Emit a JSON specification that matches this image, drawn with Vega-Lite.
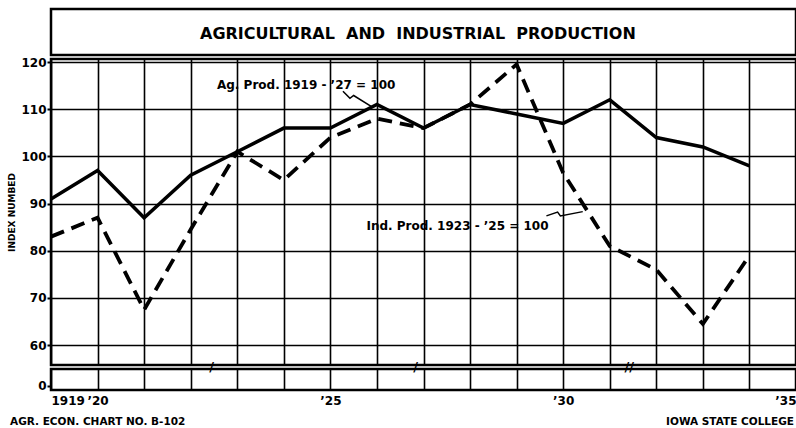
{
  "$schema": "https://vega.github.io/schema/vega-lite/v6.json",
  "background": "white",
  "padding": {"left": 6, "top": 7, "right": 0, "bottom": 0},
  "spacing": 4,
  "bounds": "flush",
  "config": {
    "view": {"stroke": "black", "strokeWidth": 2.5},
    "font": "DejaVu Sans",
    "axis": {"labelColor": "black", "titleColor": "black", "labelFont": "DejaVu Sans", "titleFont": "DejaVu Sans", "gridColor": "black", "gridOpacity": 1, "tickColor": "black"}
  },
  "datasets": {
    "production": [
      {"year": 1919, "series": "Ag. Prod.", "value": 91},
      {"year": 1920, "series": "Ag. Prod.", "value": 97},
      {"year": 1921, "series": "Ag. Prod.", "value": 87},
      {"year": 1922, "series": "Ag. Prod.", "value": 96},
      {"year": 1923, "series": "Ag. Prod.", "value": 101},
      {"year": 1924, "series": "Ag. Prod.", "value": 106},
      {"year": 1925, "series": "Ag. Prod.", "value": 106},
      {"year": 1926, "series": "Ag. Prod.", "value": 111},
      {"year": 1927, "series": "Ag. Prod.", "value": 106},
      {"year": 1928, "series": "Ag. Prod.", "value": 111},
      {"year": 1929, "series": "Ag. Prod.", "value": 109},
      {"year": 1930, "series": "Ag. Prod.", "value": 107},
      {"year": 1931, "series": "Ag. Prod.", "value": 112},
      {"year": 1932, "series": "Ag. Prod.", "value": 104},
      {"year": 1933, "series": "Ag. Prod.", "value": 102},
      {"year": 1934, "series": "Ag. Prod.", "value": 98},
      {"year": 1919, "series": "Ind. Prod.", "value": 83},
      {"year": 1920, "series": "Ind. Prod.", "value": 87},
      {"year": 1921, "series": "Ind. Prod.", "value": 67.5},
      {"year": 1922, "series": "Ind. Prod.", "value": 84.5},
      {"year": 1923, "series": "Ind. Prod.", "value": 101},
      {"year": 1924, "series": "Ind. Prod.", "value": 95},
      {"year": 1925, "series": "Ind. Prod.", "value": 104},
      {"year": 1926, "series": "Ind. Prod.", "value": 108},
      {"year": 1927, "series": "Ind. Prod.", "value": 106},
      {"year": 1928, "series": "Ind. Prod.", "value": 111},
      {"year": 1929, "series": "Ind. Prod.", "value": 119.5},
      {"year": 1930, "series": "Ind. Prod.", "value": 96.5},
      {"year": 1931, "series": "Ind. Prod.", "value": 81},
      {"year": 1932, "series": "Ind. Prod.", "value": 76},
      {"year": 1933, "series": "Ind. Prod.", "value": 64.5},
      {"year": 1934, "series": "Ind. Prod.", "value": 79}
    ],
    "labels": [
      {"year": 1924.48, "value": 115.1, "text": "Ag. Prod. 1919 - ’27 = 100"},
      {"year": 1927.73, "value": 85.3, "text": "Ind. Prod. 1923 - ’25 = 100"}
    ],
    "leaders": [
      {"leader": "ag", "order": 1, "year": 1925.27, "value": 113.8},
      {"leader": "ag", "order": 2, "year": 1925.42, "value": 112.3},
      {"leader": "ag", "order": 3, "year": 1925.5, "value": 112.9},
      {"leader": "ag", "order": 4, "year": 1925.91, "value": 110.4},
      {"leader": "ind", "order": 1, "year": 1929.64, "value": 87.4},
      {"leader": "ind", "order": 2, "year": 1929.88, "value": 88.2},
      {"leader": "ind", "order": 3, "year": 1929.94, "value": 87.4},
      {"leader": "ind", "order": 4, "year": 1930.42, "value": 88.3}
    ],
    "breaks": [
      {"year": 1922.45, "mark": "/"},
      {"year": 1926.83, "mark": "/"},
      {"year": 1931.42, "mark": "//"}
    ]
  },
  "vconcat": [
    {
      "width": 745,
      "height": 46,
      "data": {"values": [{"title": "AGRICULTURAL\u00a0\u00a0AND\u00a0\u00a0INDUSTRIAL\u00a0\u00a0PRODUCTION", "year": 1926.88, "pos": 0.45}]},
      "mark": {"type": "text", "fontWeight": "bold", "fontSize": 16, "color": "black", "baseline": "middle"},
      "encoding": {
        "x": {"field": "year", "type": "quantitative", "scale": {"domain": [1919, 1935], "nice": false, "zero": false}, "axis": null},
        "y": {"field": "pos", "type": "quantitative", "scale": {"domain": [0, 1], "nice": false, "zero": false}, "axis": null},
        "text": {"field": "title"}
      }
    },
    {
      "width": 745,
      "height": 306,
      "layer": [
        {
          "data": {"name": "production"},
          "transform": [{"filter": "datum.series == 'Ag. Prod.'"}],
          "mark": {"type": "line", "color": "black", "strokeWidth": 3.5},
          "encoding": {
            "x": {"field": "year", "type": "quantitative", "scale": {"domain": [1919, 1935], "nice": false, "zero": false},
                  "axis": {"values": [1919,1920,1921,1922,1923,1924,1925,1926,1927,1928,1929,1930,1931,1932,1933,1934,1935], "grid": true, "gridWidth": 1.6, "labels": false, "ticks": false, "domain": false, "title": null}},
            "y": {"field": "value", "type": "quantitative", "scale": {"domain": [55.8, 120.64], "nice": false, "zero": false},
                  "axis": {"values": [60,70,80,90,100,110,120], "grid": true, "gridWidth": 1.6, "domain": false, "ticks": true, "tickSize": 4, "tickWidth": 2, "labelFontWeight": "bold", "labelFontSize": 12, "labelPadding": 1, "title": "INDEX NUMBED", "titleFontSize": 9, "titleFontWeight": "bold", "titlePadding": 4}}
          }
        },
        {
          "data": {"name": "production"},
          "transform": [{"filter": "datum.series == 'Ind. Prod.'"}],
          "mark": {"type": "line", "color": "black", "strokeWidth": 3.8, "strokeDash": [14, 8]},
          "encoding": {
            "x": {"field": "year", "type": "quantitative"},
            "y": {"field": "value", "type": "quantitative"}
          }
        },
        {
          "data": {"name": "leaders"},
          "mark": {"type": "line", "color": "black", "strokeWidth": 1.5},
          "encoding": {
            "x": {"field": "year", "type": "quantitative"},
            "y": {"field": "value", "type": "quantitative"},
            "detail": {"field": "leader"},
            "order": {"field": "order"}
          }
        },
        {
          "data": {"name": "labels"},
          "mark": {"type": "text", "fontSize": 12, "fontWeight": "bold", "color": "black", "baseline": "middle"},
          "encoding": {
            "x": {"field": "year", "type": "quantitative"},
            "y": {"field": "value", "type": "quantitative"},
            "text": {"field": "text"}
          }
        }
      ]
    },
    {
      "width": 745,
      "height": 21,
      "layer": [
        {
          "data": {"name": "breaks"},
          "mark": {"type": "text", "fontSize": 13, "fontWeight": "bold", "color": "black", "baseline": "middle", "dy": -2, "clip": false},
          "encoding": {
            "x": {"field": "year", "type": "quantitative", "scale": {"domain": [1919, 1935], "nice": false, "zero": false},
                  "axis": {"values": [1919,1920,1921,1922,1923,1924,1925,1926,1927,1928,1929,1930,1931,1932,1933,1934,1935], "grid": true, "gridWidth": 1.6, "ticks": false, "domain": false, "title": null,
                           "labelExpr": "datum.value == 1919 ? '1919' : (datum.value % 5 == 0 ? '’' + substring(toString(datum.value), 2, 4) : '')",
                           "labelAlign": {"expr": "datum.value == 1919 ? 'left' : (datum.value == 1935 ? 'right' : 'center')"},
                           "labelFontWeight": "bold", "labelFontSize": 12, "labelPadding": 5}},
            "y": {"datum": 4, "type": "quantitative", "scale": {"domain": [-1, 4], "nice": false, "zero": false},
                  "axis": {"values": [0], "grid": false, "domain": false, "ticks": true, "tickSize": 4, "tickWidth": 2, "labelFontWeight": "bold", "labelFontSize": 12, "labelPadding": 1, "title": null}},
            "text": {"field": "mark"}
          }
        },
        {
          "data": {"values": [{"year": 1919, "text": "AGR. ECON. CHART NO. B-102"}]},
          "mark": {"type": "text", "fontSize": 10.5, "fontWeight": "bold", "color": "black", "baseline": "middle", "align": "left", "dx": -41, "dy": 32, "clip": false},
          "encoding": {
            "x": {"field": "year", "type": "quantitative"},
            "y": {"datum": -1, "type": "quantitative"},
            "text": {"field": "text"}
          }
        },
        {
          "data": {"values": [{"year": 1935, "text": "IOWA STATE COLLEGE"}]},
          "mark": {"type": "text", "fontSize": 10.5, "fontWeight": "bold", "color": "black", "baseline": "middle", "align": "right", "dx": -2, "dy": 32, "clip": false},
          "encoding": {
            "x": {"field": "year", "type": "quantitative"},
            "y": {"datum": -1, "type": "quantitative"},
            "text": {"field": "text"}
          }
        }
      ]
    }
  ]
}
